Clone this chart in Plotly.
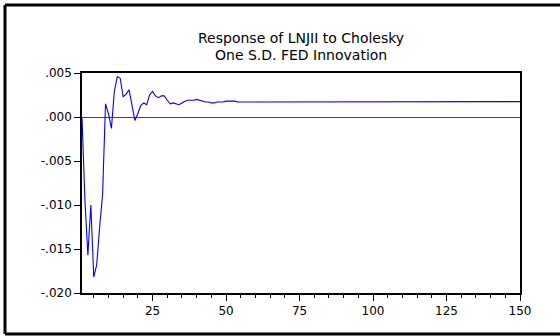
import plotly.graph_objects as go

periods = list(range(1, 151))
head = [0.0000, -0.0095, -0.0157, -0.0100, -0.0182, -0.0168, -0.0125, -0.0088, 0.0015, 0.0004,
        -0.0013, 0.0029, 0.0046, 0.0044, 0.0023, 0.0026, 0.0031, 0.0013, -0.0004, 0.0004,
        0.0013, 0.0016, 0.0014, 0.0025, 0.0029, 0.0024, 0.0022, 0.0024, 0.0024, 0.0019,
        0.0015, 0.0016, 0.0015, 0.0014, 0.0016, 0.0018, 0.0019, 0.0019, 0.0019, 0.0020,
        0.0019, 0.0018, 0.0017, 0.0017, 0.0016, 0.0016, 0.0017, 0.0017, 0.0017, 0.0018,
        0.0018, 0.0018, 0.0018, 0.0017, 0.0017, 0.0017, 0.0017, 0.00175, 0.00175, 0.00175]
tail = [0.00175] * (150 - len(head))
response = head + tail

y_tickvals = [0.005, 0.000, -0.005, -0.010, -0.015, -0.020]
y_ticktext = [".005", ".000", "-.005", "-.010", "-.015", "-.020"]
x_tickvals = [25, 50, 75, 100, 125, 150]
x_ticktext = ["25", "50", "75", "100", "125", "150"]
title_lines = ["Response of LNJII to Cholesky", "One S.D. FED Innovation"]

fig = go.Figure()
fig.add_trace(go.Scatter(x=periods, y=response, mode="lines",
                         line=dict(color="#0000ff", width=1.1), showlegend=False))

font = "DejaVu Sans, Liberation Sans, Arial, sans-serif"
fig.update_layout(
    width=560, height=336,
    margin=dict(l=82, r=40, t=73, b=43),
    paper_bgcolor="white", plot_bgcolor="white",
    font=dict(family=font, size=12, color="black"),
    xaxis=dict(range=[1, 150], tickvals=x_tickvals, ticktext=x_ticktext,
               ticks="outside", ticklen=6, tickwidth=1, tickcolor="black",
               minor=dict(tickvals=[v for v in range(5, 151, 5) if v % 25 != 0],
                          ticks="outside", ticklen=3, tickcolor="black"),
               showline=True, linecolor="black", linewidth=1.5, mirror=True,
               showgrid=False, zeroline=False, tickfont=dict(size=12)),
    yaxis=dict(range=[-0.020, 0.005], tickvals=y_tickvals, ticktext=y_ticktext,
               ticks="outside", ticklen=6, tickwidth=1, tickcolor="black",
               showline=True, linecolor="black", linewidth=1.5, mirror=True,
               showgrid=False, zeroline=True, zerolinecolor="#444444", zerolinewidth=1.2,
               tickfont=dict(size=12)),
)

# two-line title as annotations
for i, line in enumerate(title_lines):
    fig.add_annotation(text=line, xref="paper", yref="paper",
                       x=(301 - 82) / 438, y=(293 - (38 + 17 * i)) / 220,
                       xanchor="center", yanchor="middle", showarrow=False,
                       font=dict(family=font, size=14, color="black"))

# outer frame (left, top, bottom edges)
fig.add_shape(type="line", xref="paper", yref="paper",
              x0=(5 - 82) / 438, x1=(5 - 82) / 438, y0=(293 - 334) / 220, y1=(293 - 5) / 220,
              line=dict(color="black", width=3))
fig.add_shape(type="line", xref="paper", yref="paper",
              x0=(5 - 82) / 438, x1=(562 - 82) / 438, y0=(293 - 5) / 220, y1=(293 - 5) / 220,
              line=dict(color="black", width=3))
fig.add_shape(type="line", xref="paper", yref="paper",
              x0=(5 - 82) / 438, x1=(562 - 82) / 438, y0=(293 - 334) / 220, y1=(293 - 334) / 220,
              line=dict(color="black", width=3))

fig.write_html("out.html")
